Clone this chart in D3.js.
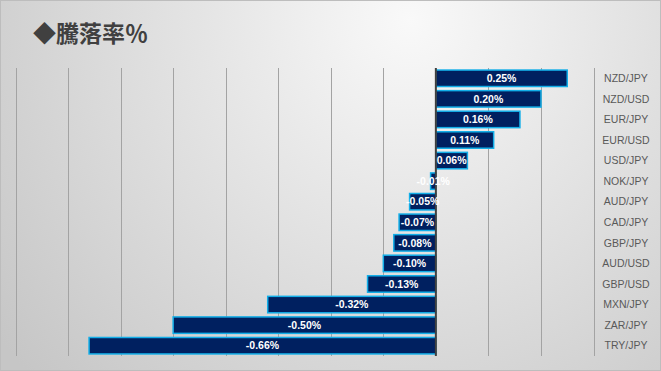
<!DOCTYPE html>
<html>
<head>
<meta charset="utf-8">
<script src="https://cdn.jsdelivr.net/npm/d3@7"></script>
<style>
  body { margin: 0; padding: 0; overflow: hidden; }
  svg { display: block; }
</style>
</head>
<body>
<div id="chart"></div>
<script>
var pairs = ["NZD/JPY", "NZD/USD", "EUR/JPY", "EUR/USD", "USD/JPY", "NOK/JPY", "AUD/JPY",
             "CAD/JPY", "GBP/JPY", "AUD/USD", "GBP/USD", "MXN/JPY", "ZAR/JPY", "TRY/JPY"];
var changes = [0.25, 0.20, 0.16, 0.11, 0.06, -0.01, -0.05, -0.07, -0.08, -0.10, -0.13, -0.32, -0.50, -0.66];
var gridTicks = [-0.8, -0.7, -0.6, -0.5, -0.4, -0.3, -0.2, -0.1, 0.1, 0.2, 0.3];

var width = 661, height = 371;
var plot = {left: 15.5, right: 593.5, top: 68, bottom: 356};

var svg = d3.select("#chart")
  .append("svg")
  .attr("width", width)
  .attr("height", height);

// background
var defs = svg.append("defs");
var grad = defs.append("radialGradient")
  .attr("id", "bg")
  .attr("gradientUnits", "userSpaceOnUse")
  .attr("cx", 410).attr("cy", 20).attr("r", 520);
grad.append("stop").attr("offset", "0").attr("stop-color", "#f9f9f9");
grad.append("stop").attr("offset", "1").attr("stop-color", "#c6c6c6");

svg.append("rect")
  .attr("x", 0.5).attr("y", 0.5)
  .attr("width", width - 1).attr("height", height - 1)
  .attr("fill", "url(#bg)")
  .attr("stroke", "#bdbdbd");

// title
svg.append("text")
  .attr("x", 33)
  .attr("y", 42)
  .attr("fill", "#404040")
  .style("font-family", "'Noto Sans CJK JP', sans-serif")
  .style("font-size", "23px")
  .style("font-weight", "bold")
  .text("◆騰落率％");

var x = d3.scaleLinear()
  .domain([-0.8, 0.3])
  .range([plot.left, plot.right]);

var y = d3.scaleBand()
  .domain(pairs)
  .range([plot.top, plot.bottom])
  .paddingInner(0.2)
  .paddingOuter(0.1);

// gridlines
svg.append("g")
  .selectAll("line")
  .data(gridTicks)
  .enter()
  .append("line")
  .attr("x1", d => Math.round(x(d)) + 0.5)
  .attr("x2", d => Math.round(x(d)) + 0.5)
  .attr("y1", plot.top)
  .attr("y2", plot.bottom)
  .attr("stroke", "#a3a3a3")
  .attr("stroke-width", 1);

// bars
svg.append("g")
  .selectAll("rect")
  .data(pairs)
  .enter()
  .append("rect")
  .attr("x", (d, i) => x(Math.min(0, changes[i])))
  .attr("y", d => y(d))
  .attr("width", (d, i) => Math.abs(x(changes[i]) - x(0)))
  .attr("height", y.bandwidth())
  .attr("fill", "#002060")
  .attr("stroke", "#12aee8")
  .attr("stroke-width", 1.5);

// zero axis
svg.append("line")
  .attr("x1", x(0)).attr("x2", x(0))
  .attr("y1", plot.top).attr("y2", plot.bottom)
  .attr("stroke", "#3f3f3f")
  .attr("stroke-width", 2);

// value labels
svg.append("g")
  .selectAll("text")
  .data(pairs)
  .enter()
  .append("text")
  .attr("x", (d, i) => (x(changes[i]) + x(0)) / 2)
  .attr("y", d => y(d) + y.bandwidth() / 2)
  .attr("dy", "0.36em")
  .attr("text-anchor", "middle")
  .attr("fill", "#ffffff")
  .style("font-family", "'Liberation Sans', Arial, sans-serif")
  .style("font-weight", "bold")
  .style("font-size", "10.5px")
  .text((d, i) => changes[i].toFixed(2) + "%");

// category labels
svg.append("g")
  .selectAll("text")
  .data(pairs)
  .enter()
  .append("text")
  .attr("x", 626)
  .attr("y", d => y(d) + y.bandwidth() / 2)
  .attr("dy", "0.36em")
  .attr("text-anchor", "middle")
  .attr("fill", "#595959")
  .style("font-family", "'Liberation Sans', Arial, sans-serif")
  .style("font-size", "10.5px")
  .text(d => d);
</script>
</body>
</html>
